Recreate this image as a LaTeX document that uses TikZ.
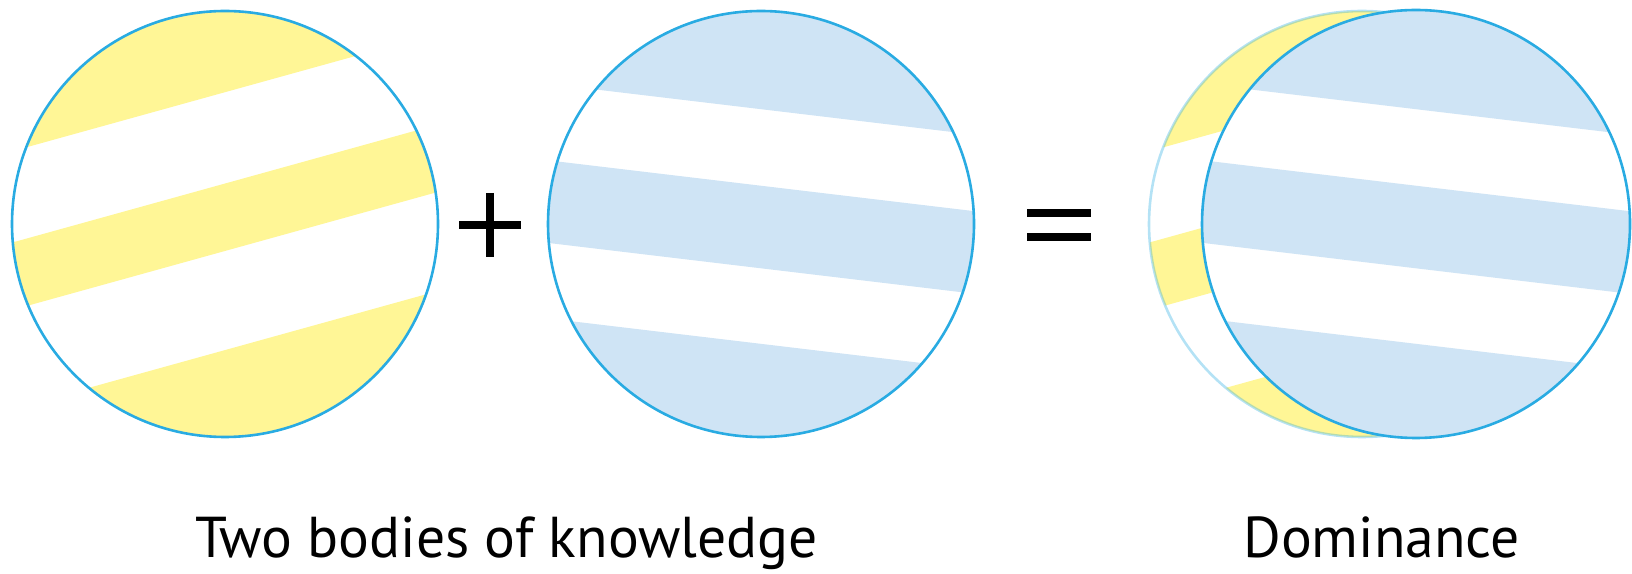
\documentclass[tikz,border=0pt]{standalone}
\usepackage{fontspec}
\setmainfont{PT Sans}
\usetikzlibrary{positioning}
\definecolor{rimblue}{RGB}{41,171,226}
\definecolor{bandyellow}{RGB}{255,246,150}
\definecolor{bandblue}{RGB}{207,228,245}

% stripes of each disc, in the disc's own (rotated) frame
\newcommand{\yellowbands}{\fill[bandyellow] (-300,127) rectangle (300,300) (-300,-26) rectangle (300,39) (-300,-300) rectangle (300,-121.5);}
\newcommand{\bluebands}{\fill[bandblue] (-300,114) rectangle (300,300) (-300,-44) rectangle (300,38) (-300,-300) rectangle (300,-119);}

\begin{document}
\begin{tikzpicture}[
    x=0.5pt, y=0.5pt,
    rim/.style={draw=rimblue, line width=1.3pt},
    caption/.style={font=\fontsize{28.8}{34}\selectfont, anchor=base},
    sign/.style={line width=3.6pt, black}
  ]
  \useasboundingbox (0,0) rectangle (1632,573);

  % Disc kiri (kuning)
  \coordinate (ykiri) at (225,349);
  \begin{scope}
    \clip (ykiri) circle[radius=213];
    \begin{scope}[shift={(ykiri)}, rotate=15.5]
      \yellowbands
    \end{scope}
  \end{scope}
  \draw[rim] (ykiri) circle[radius=213];

  % Disc tengah (biru)
  \coordinate (btengah) at (761,349);
  \begin{scope}
    \clip (btengah) circle[radius=213];
    \begin{scope}[shift={(btengah)}, rotate=-6.8]
      \bluebands
    \end{scope}
  \end{scope}
  \draw[rim] (btengah) circle[radius=213];

  % Tanda plus dan sama dengan
  \draw[sign] (459,348) -- (521,348);
  \draw[sign] (490,380) -- (490,316);
  \draw[sign] (1027,360) -- (1091,360);
  \draw[sign] (1027,336) -- (1091,336);

  % Gabungan: kuning di belakang, biru di depan
  \coordinate (ykanan) at (1362,349);
  \coordinate (bkanan) at (1416,349);
  \begin{scope}
    \clip (ykanan) circle[radius=213];
    \begin{scope}[shift={(ykanan)}, rotate=15.5]
      \yellowbands
    \end{scope}
  \end{scope}
  \draw[rim, draw opacity=0.35] (ykanan) circle[radius=213];
  \fill[white] (bkanan) circle[radius=214];
  \begin{scope}
    \clip (bkanan) circle[radius=214];
    \begin{scope}[shift={(bkanan)}, rotate=-6.8]
      \bluebands
    \end{scope}
  \end{scope}
  \draw[rim] (bkanan) circle[radius=214];

  % Keterangan
  \node[caption] (dua) at (506.5,16) {Two bodies of knowledge};
  \node[caption] (dominasi) at (1381.5,16) {Dominance};
\end{tikzpicture}
\end{document}
